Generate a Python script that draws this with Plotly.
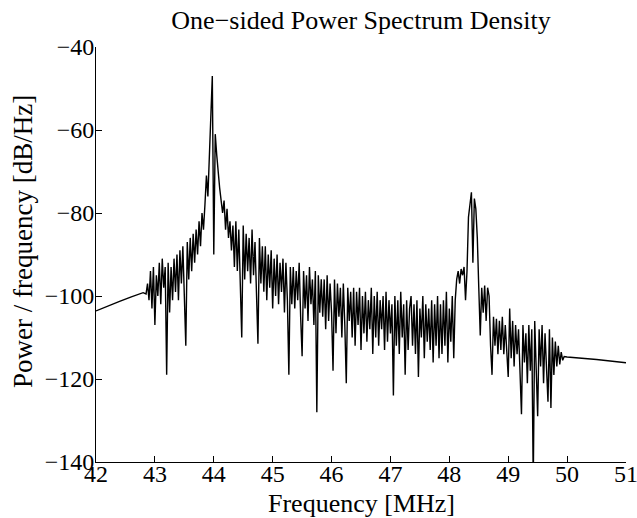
import numpy as np
import plotly.graph_objects as go

# Smooth low-frequency lead-in (MHz, dB/Hz)
head_f = [42.0, 42.2, 42.4, 42.6, 42.8]
head_p = [-103.6, -102.4, -101.3, -100.2, -99.2]

# Dense spectrum region, 25 kHz bins starting at 42.85 MHz
dense_start = 42.85
dense_step = 0.025
seg_a = [-99.5, -97, -101, -94, -103, -93, -107, -95, -100, -92, -102, -91, -98, -93, -119, -92, -104, -93, -101, -91]
seg_b = [-99, -90, -101, -89, -97, -88, -100, -112, -87, -96, -86, -94, -85, -92, -84, -90, -82, -88, -80, -84]
seg_c = [-78, -71, -76, -66, -61, -47, -90, -61, -66, -71, -74, -77, -80, -77, -84, -79, -86, -82, -89, -83]
seg_d = [-93, -82, -94, -84, -95, -110, -83, -96, -85, -94, -86, -97, -84, -95, -87, -98, -111.5, -86, -97, -88]
seg_e = [-99, -88, -101, -90, -98, -89, -103, -91, -100, -90, -102, -92, -99, -91, -104, -92, -101, -119, -93, -102]
seg_f = [-93, -103, -94, -101, -92, -105, -114.5, -94, -103, -95, -106, -93, -102, -96, -107, -94, -128, -95, -104, -96]
seg_g = [-105, -96, -108, -95, -106, -97, -104, -118, -96, -109, -97, -105, -98, -110, -97, -107, -121, -98, -106, -99]
seg_h = [-110, -98, -112, -99, -107, -98, -113, -100, -109, -99, -111, -101, -108, -98, -114, -100, -110, -99, -112, -101]
seg_i = [-108, -100, -113, -99, -111, -101, -109, -102, -124, -100, -112, -101, -114, -99, -110, -102, -119, -101, -113, -103]
seg_j = [-100, -112, -102, -114, -101, -119.5, -103, -110, -100, -115, -102, -111, -103, -113, -101, -116, -102, -112, -100, -115]
seg_k = [-102, -114, -101, -112, -99, -116, -103, -111, -100, -115, -101, -96, -94, -97, -93.5, -95, -93, -101, -94, -81]
seg_l = [-77, -75, -92, -76.5, -79, -86, -98, -109.5, -98, -104, -97.5, -106, -98, -100, -112, -119, -105, -112, -105.5, -114]
seg_m = [-106, -113, -105, -114, -107, -112, -119.5, -103, -115, -106, -117, -107, -114, -108, -118, -128.5, -107, -116, -109, -121]
seg_n = [-107, -118, -108, -145, -106, -120, -129, -108, -117, -107, -121, -109, -116, -125.5, -108, -127, -110, -119, -111, -117]
seg_o = [-112, -116.5, -113.5, -115.5, -114.6]

# Smooth high-frequency tail
tail_f = [50.0, 50.5, 51.0]
tail_p = [-114.7, -115.3, -116.1]

dense_p = (seg_a + seg_b + seg_c + seg_d + seg_e + seg_f + seg_g + seg_h +
           seg_i + seg_j + seg_k + seg_l + seg_m + seg_n + seg_o)
dense_f = [dense_start + i * dense_step for i in range(len(dense_p))]

freq = head_f + dense_f + tail_f
power = head_p + dense_p + tail_p

x_ticks = [42, 43, 44, 45, 46, 47, 48, 49, 50, 51]
y_ticks = [-140, -120, -100, -80, -60, -40]

FONT = "Liberation Serif, Times New Roman, serif"
W, H = 637, 518
ML, MR, MT, MB = 96, 11, 47, 56
PH = H - MT - MB

fig = go.Figure()
fig.add_trace(go.Scatter(x=freq, y=power, mode="lines",
                         line=dict(color="black", width=1.4), showlegend=False))

fig.update_layout(
    width=W, height=H,
    margin=dict(l=ML, r=MR, t=MT, b=MB),
    paper_bgcolor="white", plot_bgcolor="white",
    font=dict(family=FONT, color="black", size=24),
    title=dict(text="One\u2212sided Power Spectrum Density", x=361/637, xanchor="center",
               y=1 - 20/518, yanchor="middle", yref="container",
               font=dict(family=FONT, size=26, color="black")),
    annotations=[
        dict(text="Frequency [MHz]", xref="paper", yref="paper", x=0.5,
             y=-(503 - (H - MB)) / PH, xanchor="center", yanchor="middle",
             showarrow=False, font=dict(family=FONT, size=26, color="black")),
        dict(text="Power / frequency [dB/Hz]", xref="paper", yref="paper",
             x=-(ML - 23) / (W - ML - MR), y=1 - (242 - MT) / PH,
             xanchor="center", yanchor="middle", textangle=-90,
             showarrow=False, font=dict(family=FONT, size=27, color="black")),
    ],
)
fig.update_xaxes(range=[42, 51], tickvals=x_ticks, ticks="inside", ticklen=6,
                 tickcolor="black", showline=True, linecolor="black", linewidth=1,
                 showgrid=False, zeroline=False, mirror=False, automargin=False,
                 ticklabeloverflow="allow", ticklabelstandoff=-10,
                 tickfont=dict(family=FONT, size=24))
fig.update_yaxes(range=[-140, -40], tickvals=y_ticks, ticks="inside", ticklen=6,
                 tickcolor="black", showline=True, linecolor="black", linewidth=1,
                 showgrid=False, zeroline=False, mirror=False, automargin=False,
                 ticklabeloverflow="allow", ticklabelstandoff=-4,
                 tickfont=dict(family=FONT, size=24))

fig.write_html("out.html")
